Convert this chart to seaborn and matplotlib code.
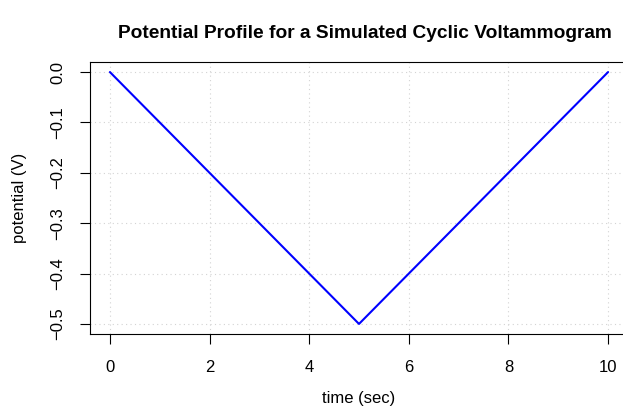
import matplotlib
matplotlib.use("Agg")
import matplotlib.pyplot as plt
import seaborn as sns
import pandas as pd

time_sec = [0, 5, 10]
potential_V = [0.0, -0.5, 0.0]
x_ticks = [0, 2, 4, 6, 8, 10]
y_ticks = [0.0, -0.1, -0.2, -0.3, -0.4, -0.5]
y_tick_labels = ["0.0", "\u22120.1", "\u22120.2", "\u22120.3", "\u22120.4", "\u22120.5"]

sns.set_style("white")
plt.rcParams['font.family'] = ['Liberation Sans', 'DejaVu Sans']
plt.rcParams['text.color'] = 'black'
plt.rcParams['axes.labelcolor'] = 'black'

df = pd.DataFrame({"time": time_sec, "potential": potential_V})

fig = plt.figure(figsize=(6.23, 4.15), dpi=100)
W, H = 623, 415
left, right, top, bottom = 90, 628, 62, 334
ax = fig.add_axes([left / W, 1 - bottom / H, (right - left) / W, (bottom - top) / H])

for xv in x_ticks:
    ax.axvline(xv, color="#d3d3d3", linestyle=(0, (1, 3)), linewidth=0.8, zorder=0)
for yv in y_ticks:
    ax.axhline(yv, color="#d3d3d3", linestyle=(0, (1, 3)), linewidth=0.8, zorder=0)

sns.lineplot(data=df, x="time", y="potential", ax=ax, color="blue", linewidth=1.5, zorder=3)

ax.set_xlim(-0.4, 10.4)
ax.set_ylim(-0.52, 0.02)
ax.set_xticks(x_ticks)
ax.set_xticklabels([str(v) for v in x_ticks])
ax.set_yticks(y_ticks)
ax.set_yticklabels(y_tick_labels, rotation=90, va="center")
ax.tick_params(axis="both", bottom=True, left=True, direction="out", length=7.5, width=0.8,
               labelsize=12, colors="black")
ax.tick_params(axis="x", pad=11)
ax.tick_params(axis="y", pad=10)
for s in ax.spines.values():
    s.set_color("black")
    s.set_linewidth(0.8)

ax.set_xlabel("time (sec)", fontsize=12, labelpad=12)
ax.set_ylabel("potential (V)", fontsize=12, labelpad=17)
fig.text(365 / W, 1 - 33 / H, "Potential Profile for a Simulated Cyclic Voltammogram",
         fontsize=13.8, fontweight="bold", ha="center", va="center", color="black")

fig.savefig("out.png", dpi=100)
